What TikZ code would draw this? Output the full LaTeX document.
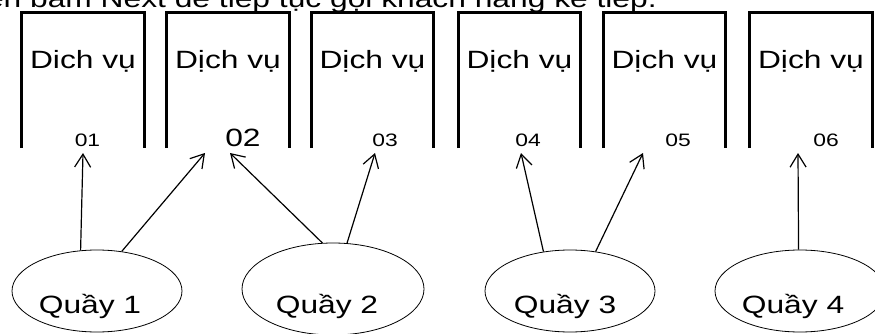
\documentclass[tikz,border=0pt]{standalone}
\usepackage{fontspec}
\setmainfont{Liberation Sans}
\usetikzlibrary{shapes.geometric,arrows.meta,positioning}
\tikzset{
>={Straight Barb[length=13pt,width=16pt]},
  dvbox/.style={
    rectangle,
    minimum width=122pt,
    minimum height=135pt,
    inner sep=0pt},
  boxline/.style={draw, line width=3pt},
  dvtext/.style={font=\fontsize{25}{30}\selectfont, inner sep=0pt, anchor=base,
    xscale=1.27, transform shape},
  sotext/.style={font=\fontsize{18}{22}\selectfont, inner sep=0pt, anchor=base,
    xscale=1.27, transform shape},
  quay/.style={
    ellipse,
    draw=black, thick,
    minimum width=170pt,
    minimum height=82pt,
    inner sep=0pt},
  pil/.style={->, line width=1.2pt},
}

\begin{document}
\begin{tikzpicture}[
    x=1pt, y=-1pt,
    every node/.style={color=black}
    ]
    \useasboundingbox (0,0) rectangle (875,334);

    %heading (cut off)
    \node[dvtext, anchor=base east] (head) at (657,8)
        {hiện bấm Next để tiếp tục gọi khách hàng kế tiếp.};

    %boxes
    \node[dvbox] (d1) at (83,80.5) {};
    \node[dvbox] (d2) at (228,80.5) {};
    \node[dvbox] (d3) at (372.5,80.5) {};
    \node[dvbox] (d4) at (519.5,80.5) {};
    \node[dvbox] (d5) at (664.5,80.5) {};
    \node[dvbox] (d6) at (811,80.5) {};
    \draw[boxline] (d1.south west) |- (d1.north east) -- (d1.south east);
    \draw[boxline] (d2.south west) |- (d2.north east) -- (d2.south east);
    \draw[boxline] (d3.south west) |- (d3.north east) -- (d3.south east);
    \draw[boxline] (d4.south west) |- (d4.north east) -- (d4.south east);
    \draw[boxline] (d5.south west) |- (d5.north east) -- (d5.south east);
    \draw[boxline] (d6.south west) |- (d6.north east) -- (d6.south east);

    %box names
    \node[dvtext] (dv1) at (83,69) {Dich vụ};
    \node[dvtext] (dv2) at (228,69) {Dịch vụ};
    \node[dvtext] (dv3) at (372.5,69) {Dịch vụ};
    \node[dvtext] (dv4) at (519.5,69) {Dịch vụ};
    \node[dvtext] (dv5) at (664.5,69) {Dịch vụ};
    \node[dvtext] (dv6) at (811,69) {Dịch vụ};

    %numbers
    \node[sotext] (n1) at (87.5,146.5) {01};
    \node[dvtext] (n2) at (243,146.5) {02};
    \node[sotext] (n3) at (385,146.5) {03};
    \node[sotext] (n4) at (528,146.5) {04};
    \node[sotext] (n5) at (678,146.5) {05};
    \node[sotext] (n6) at (826,146.5) {06};

    %counters
    \node[quay] (q1) at (97,291) {};
    \node[quay, minimum width=182pt, minimum height=92pt] (q2) at (333,289) {};
    \node[quay] (q3) at (570,291) {};
    \node[quay] (q4) at (800,291) {};
    \node[dvtext] (l1) at (90,313) {Quầy 1};
    \node[dvtext] (l2) at (327,313) {Quầy 2};
    \node[dvtext] (l3) at (565,313) {Quầy 3};
    \node[dvtext] (l4) at (793,313) {Quầy 4};

    %arrow ends
    \coordinate (e1) at (83,153);
    \coordinate (e2) at (205,153);
    \coordinate (e3) at (230,153);
    \coordinate (e4) at (375,153);
    \coordinate (e5) at (521,153);
    \coordinate (e6) at (643,153);
    \coordinate (e7) at (798,153);

    %arrows
    \draw[pil] (q1.112) -- (e1);
    \draw[pil] (q1.58) -- (e2);
    \draw[pil] (q2.103) -- (e3);
    \draw[pil] (q2.73) -- (e4);
    \draw[pil] (q3.124) -- (e5);
    \draw[pil] (q3.57) -- (e6);
    \draw[pil] (q4.92) -- (e7);

   \end{tikzpicture}
\end{document}
